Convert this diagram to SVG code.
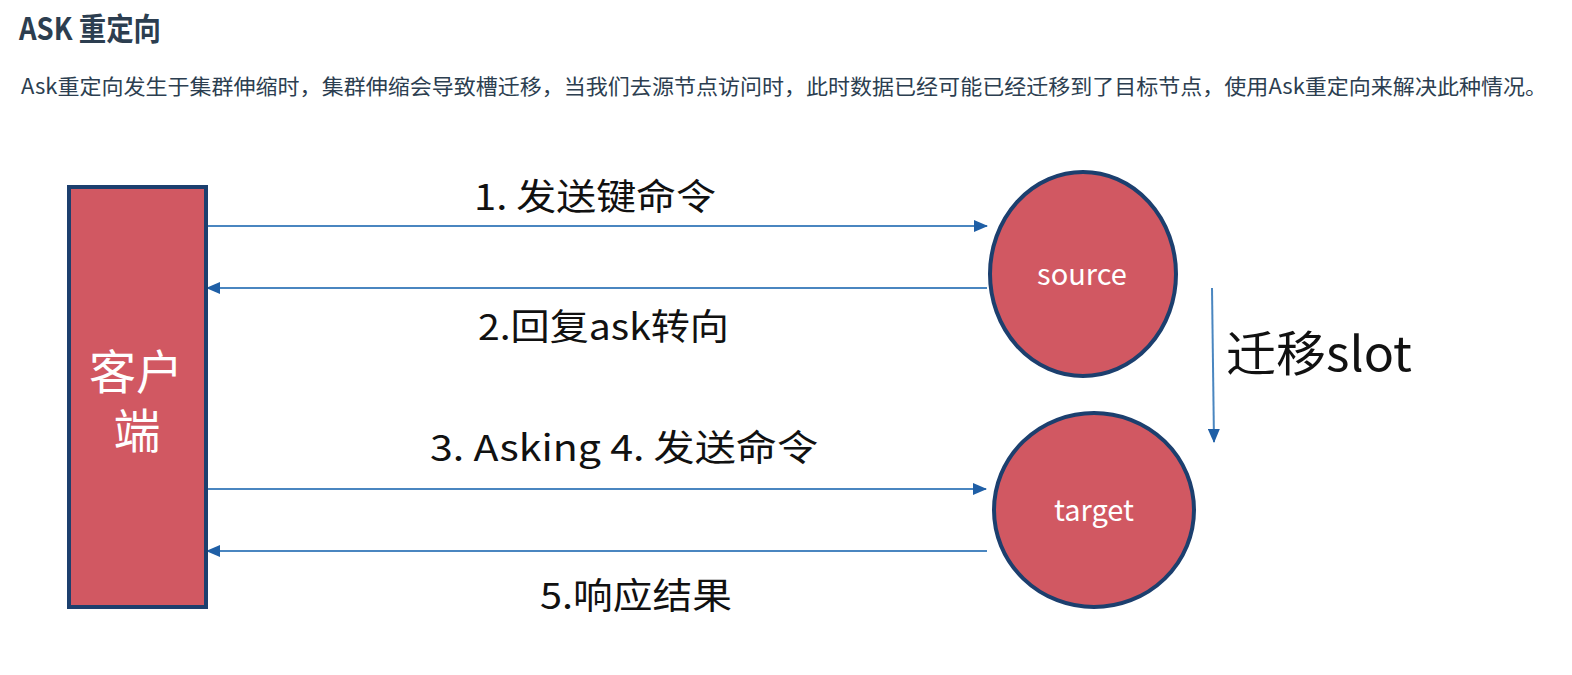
<svg xmlns="http://www.w3.org/2000/svg" width="1572" height="675" viewBox="0 0 1572 675">
<style>
text { font-family: "Noto Sans CJK SC", "Noto Sans", sans-serif; }
.title { font-size: 31px; font-weight: bold; fill: #2c3e50; }
.para { font-size: 21px; fill: #2c3e50; }
.node { fill: #d15862; stroke: #1c3f6e; stroke-width: 4; }
.ntext { fill: #ffffff; text-anchor: middle; }
.lbl { font-size: 36px; fill: #111111; }
.conn { stroke: #4a86c0; stroke-width: 2; fill: none; }
</style>
<defs>
<marker id="ah" markerUnits="userSpaceOnUse" markerWidth="14" markerHeight="12" refX="13" refY="6" orient="auto">
<path d="M0,0 L14,6 L0,12 z" fill="#1f5fa6"/>
</marker>
</defs>
<rect width="1572" height="675" fill="#ffffff"/>
<text class="title" x="19" y="40" textLength="142" lengthAdjust="spacingAndGlyphs">ASK 重定向</text>
<text class="para" x="21" y="94" textLength="1526" lengthAdjust="spacingAndGlyphs">Ask重定向发生于集群伸缩时，集群伸缩会导致槽迁移，当我们去源节点访问时，此时数据已经可能已经迁移到了目标节点，使用Ask重定向来解决此种情况。</text>

<g id="connectors">
<line class="conn" x1="207" y1="226" x2="987" y2="226" marker-end="url(#ah)"/>
<line class="conn" x1="987" y1="288" x2="207" y2="288" marker-end="url(#ah)"/>
<line class="conn" x1="207" y1="489" x2="986" y2="489" marker-end="url(#ah)"/>
<line class="conn" x1="987" y1="551" x2="207" y2="551" marker-end="url(#ah)"/>
<line class="conn" x1="1212" y1="288" x2="1214" y2="442" marker-end="url(#ah)"/>
<text class="lbl" x="474" y="210" textLength="242" lengthAdjust="spacingAndGlyphs">1. 发送键命令</text>
<text class="lbl" x="478" y="340" textLength="251" lengthAdjust="spacingAndGlyphs">2.回复ask转向</text>
<text class="lbl" x="430" y="461" textLength="388" lengthAdjust="spacingAndGlyphs">3. Asking 4. 发送命令</text>
<text class="lbl" x="540" y="609" textLength="192" lengthAdjust="spacingAndGlyphs">5.响应结果</text>
<text class="lbl" x="1226" y="371" style="font-size:48px" textLength="186" lengthAdjust="spacingAndGlyphs">迁移slot</text>
</g>

<g id="client">
<rect class="node" x="69" y="187" width="137" height="420"/>
<text class="ntext" style="font-size:47px"><tspan x="136" y="389">客户</tspan><tspan x="137" y="448">端</tspan></text>
</g>

<g id="source">
<ellipse class="node" cx="1083" cy="274" rx="93" ry="102"/>
<text class="ntext" x="1082" y="285" style="font-size:29px">source</text>
</g>

<g id="target">
<ellipse class="node" cx="1094" cy="510" rx="100" ry="97"/>
<text class="ntext" x="1094" y="521" style="font-size:29px">target</text>
</g>
</svg>
